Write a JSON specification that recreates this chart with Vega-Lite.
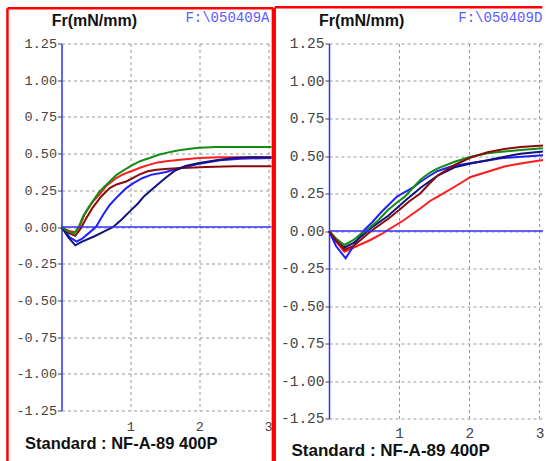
{
  "$schema": "https://vega.github.io/schema/vega-lite/v6.json",
  "padding": {"left": 5.5, "top": 5.5, "right": 0, "bottom": 0},
  "spacing": -2.5,
  "background": "white",
  "config": {"view": {"stroke": null}},
  "datasets": {
    "A": [
      {"s":"blue","x":0,"y":0},{"s":"blue","x":0.12,"y":-0.07},{"s":"blue","x":0.22,"y":-0.1},{"s":"blue","x":0.3,"y":-0.08},{"s":"blue","x":0.4,"y":-0.04},{"s":"blue","x":0.5,"y":0.0},{"s":"blue","x":0.6,"y":0.08},{"s":"blue","x":0.7,"y":0.15},{"s":"blue","x":0.82,"y":0.21},{"s":"blue","x":0.94,"y":0.265},{"s":"blue","x":1.05,"y":0.3},{"s":"blue","x":1.18,"y":0.334},{"s":"blue","x":1.3,"y":0.355},{"s":"blue","x":1.52,"y":0.375},{"s":"blue","x":1.65,"y":0.395},{"s":"blue","x":1.81,"y":0.41},{"s":"blue","x":2.0,"y":0.43},{"s":"blue","x":2.3,"y":0.455},{"s":"blue","x":2.6,"y":0.465},{"s":"blue","x":3.05,"y":0.47},
      {"s":"red","x":0,"y":0},{"s":"red","x":0.1,"y":-0.025},{"s":"red","x":0.2,"y":-0.035},{"s":"red","x":0.26,"y":0},{"s":"red","x":0.33,"y":0.08},{"s":"red","x":0.45,"y":0.17},{"s":"red","x":0.55,"y":0.22},{"s":"red","x":0.65,"y":0.28},{"s":"red","x":0.8,"y":0.335},{"s":"red","x":0.9,"y":0.36},{"s":"red","x":1.04,"y":0.385},{"s":"red","x":1.15,"y":0.405},{"s":"red","x":1.28,"y":0.425},{"s":"red","x":1.4,"y":0.44},{"s":"red","x":1.52,"y":0.448},{"s":"red","x":1.76,"y":0.46},{"s":"red","x":2.0,"y":0.47},{"s":"red","x":2.3,"y":0.475},{"s":"red","x":2.6,"y":0.475},{"s":"red","x":3.05,"y":0.475},
      {"s":"maroon","x":0,"y":0},{"s":"maroon","x":0.1,"y":-0.04},{"s":"maroon","x":0.2,"y":-0.06},{"s":"maroon","x":0.28,"y":-0.01},{"s":"maroon","x":0.36,"y":0.06},{"s":"maroon","x":0.45,"y":0.13},{"s":"maroon","x":0.58,"y":0.21},{"s":"maroon","x":0.7,"y":0.265},{"s":"maroon","x":0.8,"y":0.29},{"s":"maroon","x":0.94,"y":0.31},{"s":"maroon","x":1.04,"y":0.335},{"s":"maroon","x":1.13,"y":0.357},{"s":"maroon","x":1.25,"y":0.38},{"s":"maroon","x":1.38,"y":0.39},{"s":"maroon","x":1.55,"y":0.397},{"s":"maroon","x":1.76,"y":0.402},{"s":"maroon","x":2.1,"y":0.409},{"s":"maroon","x":2.5,"y":0.413},{"s":"maroon","x":3.05,"y":0.413},
      {"s":"navy","x":0,"y":0},{"s":"navy","x":0.1,"y":-0.07},{"s":"navy","x":0.2,"y":-0.125},{"s":"navy","x":0.3,"y":-0.1},{"s":"navy","x":0.48,"y":-0.063},{"s":"navy","x":0.6,"y":-0.035},{"s":"navy","x":0.75,"y":0.0},{"s":"navy","x":0.87,"y":0.05},{"s":"navy","x":1.0,"y":0.11},{"s":"navy","x":1.11,"y":0.16},{"s":"navy","x":1.2,"y":0.21},{"s":"navy","x":1.35,"y":0.27},{"s":"navy","x":1.5,"y":0.33},{"s":"navy","x":1.65,"y":0.385},{"s":"navy","x":1.8,"y":0.415},{"s":"navy","x":2.0,"y":0.436},{"s":"navy","x":2.25,"y":0.455},{"s":"navy","x":2.5,"y":0.47},{"s":"navy","x":2.75,"y":0.475},{"s":"navy","x":3.05,"y":0.475},
      {"s":"green","x":0,"y":0},{"s":"green","x":0.1,"y":-0.03},{"s":"green","x":0.18,"y":-0.045},{"s":"green","x":0.25,"y":0},{"s":"green","x":0.31,"y":0.07},{"s":"green","x":0.4,"y":0.14},{"s":"green","x":0.55,"y":0.24},{"s":"green","x":0.7,"y":0.31},{"s":"green","x":0.8,"y":0.355},{"s":"green","x":0.95,"y":0.4},{"s":"green","x":1.04,"y":0.425},{"s":"green","x":1.15,"y":0.45},{"s":"green","x":1.28,"y":0.47},{"s":"green","x":1.4,"y":0.49},{"s":"green","x":1.52,"y":0.505},{"s":"green","x":1.65,"y":0.517},{"s":"green","x":1.76,"y":0.527},{"s":"green","x":1.9,"y":0.535},{"s":"green","x":2.0,"y":0.54},{"s":"green","x":2.25,"y":0.545},{"s":"green","x":2.5,"y":0.545},{"s":"green","x":2.75,"y":0.545},{"s":"green","x":3.05,"y":0.545}
    ],
    "D": [
      {"s":"red","x":0,"y":0},{"s":"red","x":0.1,"y":-0.07},{"s":"red","x":0.22,"y":-0.138},{"s":"red","x":0.4,"y":-0.1},{"s":"red","x":0.59,"y":-0.06},{"s":"red","x":0.75,"y":-0.02},{"s":"red","x":0.85,"y":0.01},{"s":"red","x":1.06,"y":0.07},{"s":"red","x":1.3,"y":0.15},{"s":"red","x":1.44,"y":0.2},{"s":"red","x":1.55,"y":0.229},{"s":"red","x":1.79,"y":0.295},{"s":"red","x":2.02,"y":0.36},{"s":"red","x":2.26,"y":0.395},{"s":"red","x":2.5,"y":0.43},{"s":"red","x":2.73,"y":0.45},{"s":"red","x":3.05,"y":0.473},
      {"s":"blue","x":0,"y":0},{"s":"blue","x":0.1,"y":-0.1},{"s":"blue","x":0.237,"y":-0.182},{"s":"blue","x":0.35,"y":-0.1},{"s":"blue","x":0.5,"y":0.005},{"s":"blue","x":0.62,"y":0.06},{"s":"blue","x":0.73,"y":0.118},{"s":"blue","x":0.84,"y":0.17},{"s":"blue","x":0.97,"y":0.229},{"s":"blue","x":1.08,"y":0.26},{"s":"blue","x":1.2,"y":0.29},{"s":"blue","x":1.31,"y":0.33},{"s":"blue","x":1.44,"y":0.37},{"s":"blue","x":1.55,"y":0.4},{"s":"blue","x":1.74,"y":0.43},{"s":"blue","x":1.98,"y":0.45},{"s":"blue","x":2.26,"y":0.47},{"s":"blue","x":2.45,"y":0.485},{"s":"blue","x":2.75,"y":0.495},{"s":"blue","x":3.05,"y":0.505},
      {"s":"navy","x":0,"y":0},{"s":"navy","x":0.1,"y":-0.065},{"s":"navy","x":0.22,"y":-0.11},{"s":"navy","x":0.35,"y":-0.08},{"s":"navy","x":0.5,"y":-0.02},{"s":"navy","x":0.6,"y":0.02},{"s":"navy","x":0.72,"y":0.06},{"s":"navy","x":0.84,"y":0.1},{"s":"navy","x":1.08,"y":0.2},{"s":"navy","x":1.31,"y":0.29},{"s":"navy","x":1.55,"y":0.37},{"s":"navy","x":1.79,"y":0.425},{"s":"navy","x":2.02,"y":0.45},{"s":"navy","x":2.26,"y":0.472},{"s":"navy","x":2.5,"y":0.495},{"s":"navy","x":2.73,"y":0.515},{"s":"navy","x":3.05,"y":0.53},
      {"s":"green","x":0,"y":0},{"s":"green","x":0.1,"y":-0.05},{"s":"green","x":0.22,"y":-0.093},{"s":"green","x":0.35,"y":-0.06},{"s":"green","x":0.45,"y":-0.02},{"s":"green","x":0.55,"y":0.01},{"s":"green","x":0.7,"y":0.07},{"s":"green","x":0.84,"y":0.14},{"s":"green","x":0.97,"y":0.19},{"s":"green","x":1.08,"y":0.229},{"s":"green","x":1.2,"y":0.29},{"s":"green","x":1.31,"y":0.345},{"s":"green","x":1.44,"y":0.39},{"s":"green","x":1.55,"y":0.418},{"s":"green","x":1.79,"y":0.462},{"s":"green","x":2.02,"y":0.495},{"s":"green","x":2.26,"y":0.518},{"s":"green","x":2.5,"y":0.53},{"s":"green","x":2.73,"y":0.54},{"s":"green","x":3.05,"y":0.551},
      {"s":"maroon","x":0,"y":0},{"s":"maroon","x":0.1,"y":-0.06},{"s":"maroon","x":0.22,"y":-0.125},{"s":"maroon","x":0.35,"y":-0.1},{"s":"maroon","x":0.5,"y":-0.04},{"s":"maroon","x":0.6,"y":0.0},{"s":"maroon","x":0.72,"y":0.04},{"s":"maroon","x":0.84,"y":0.08},{"s":"maroon","x":1.0,"y":0.14},{"s":"maroon","x":1.15,"y":0.2},{"s":"maroon","x":1.3,"y":0.25},{"s":"maroon","x":1.44,"y":0.32},{"s":"maroon","x":1.55,"y":0.37},{"s":"maroon","x":1.79,"y":0.44},{"s":"maroon","x":2.02,"y":0.49},{"s":"maroon","x":2.26,"y":0.525},{"s":"maroon","x":2.5,"y":0.547},{"s":"maroon","x":2.73,"y":0.56},{"s":"maroon","x":3.05,"y":0.57}
    ]
  },
  "hconcat": [
    {
      "width": 210,
      "height": 367,
      "layer": [
        {
          "data": {"name": "A"},
          "mark": {"type": "line", "strokeWidth": 2},
          "encoding": {
            "x": {"field": "x", "type": "quantitative",
              "scale": {"domain": [0, 3.05], "nice": false, "zero": false},
              "axis": {"title": "Standard : NF-A-89 400P", "titleAlign": "left", "titleBaseline": "middle", "titleX": -37, "titleY": 33,
                "titleFont": "Liberation Sans", "titleFontSize": 16.5, "titleFontWeight": "bold", "titleColor": "#111",
                "values": [1, 2, 3], "tickCount": 10, "format": "d", "labelFlush": false, "labelOverlap": false,
                "labelFont": "Liberation Mono", "labelFontSize": 13.5, "labelColor": "#444", "labelPadding": 9,
                "ticks": false, "domain": false, "grid": true, "gridColor": "#999", "gridDash": [3, 3], "gridWidth": 1}},
            "y": {"field": "y", "type": "quantitative",
              "scale": {"domain": [-1.25, 1.25], "nice": false, "zero": false},
              "axis": {"title": "Fr(mN/mm)", "titleAngle": 0, "titleAlign": "left", "titleBaseline": "middle", "titleX": -10.3, "titleY": -23.3,
                "titleFont": "Liberation Sans", "titleFontSize": 16, "titleFontWeight": "bold", "titleColor": "#111",
                "values": [-1.25, -1, -0.75, -0.5, -0.25, 0, 0.25, 0.5, 0.75, 1, 1.25], "tickCount": 20,
                "labelExpr": "replace(format(datum.value, '.2f'), '\u2212', '-')", "labelFlush": false, "labelOverlap": false,
                "labelFont": "Liberation Mono", "labelFontSize": 13.5, "labelColor": "#444", "labelPadding": 1,
                "tickSize": 4, "tickColor": "#444", "domainColor": "#3030ff", "domainWidth": 1.5,
                "grid": true, "gridColor": "#999", "gridDash": [3, 3], "gridWidth": 1}},
            "color": {"field": "s", "type": "nominal",
              "scale": {"domain": ["green", "red", "maroon", "blue", "navy"], "range": ["#138c13", "#ff1c1c", "#880c0c", "#1f1fff", "#12127e"]},
              "legend": null}
          }
        },
        {"data": {"values": [{}]}, "mark": {"type": "rule", "color": "#3030ff", "strokeWidth": 1.5},
         "encoding": {"x": {"datum": 0}, "x2": {"datum": 3.05}, "y": {"datum": 0}}},
        {"data": {"values": [{}]}, "mark": {"type": "text", "text": "F:\\050409A", "align": "right", "baseline": "middle", "font": "Liberation Mono", "fontSize": 14, "color": "#5a5aff"},
         "encoding": {"x": {"datum": 3.02}, "y": {"datum": 1.424}}},
        {"data": {"values": [{}]}, "mark": {"type": "rule", "color": "#ff0000", "strokeWidth": 2.5},
         "encoding": {"x": {"datum": -0.785}, "y": {"datum": 1.4905}, "y2": {"datum": -1.603}}},
        {"data": {"values": [{}]}, "mark": {"type": "rule", "color": "#ff0000", "strokeWidth": 2.5},
         "encoding": {"x": {"datum": -0.785}, "x2": {"datum": 3.074}, "y": {"datum": 1.4905}}},
        {"data": {"values": [{}]}, "mark": {"type": "rule", "color": "#ff0000", "strokeWidth": 3},
         "encoding": {"x": {"datum": 3.074}, "y": {"datum": 1.4905}, "y2": {"datum": -1.603}}}
      ]
    },
    {
      "width": 214,
      "height": 375,
      "layer": [
        {
          "data": {"name": "D"},
          "mark": {"type": "line", "strokeWidth": 2},
          "encoding": {
            "x": {"field": "x", "type": "quantitative",
              "scale": {"domain": [0, 3.05], "nice": false, "zero": false},
              "axis": {"title": "Standard : NF-A-89 400P", "titleAlign": "left", "titleBaseline": "middle", "titleX": -38, "titleY": 32.4,
                "titleFont": "Liberation Sans", "titleFontSize": 17, "titleFontWeight": "bold", "titleColor": "#111",
                "values": [1, 2, 3], "tickCount": 10, "format": "d", "labelFlush": false, "labelOverlap": false,
                "labelFont": "Liberation Mono", "labelFontSize": 14.5, "labelColor": "#444", "labelPadding": 8,
                "ticks": false, "domain": false, "grid": true, "gridColor": "#999", "gridDash": [3, 3], "gridWidth": 1}},
            "y": {"field": "y", "type": "quantitative",
              "scale": {"domain": [-1.25, 1.25], "nice": false, "zero": false},
              "axis": {"title": "Fr(mN/mm)", "titleAngle": 0, "titleAlign": "left", "titleBaseline": "middle", "titleX": -10.6, "titleY": -23.3,
                "titleFont": "Liberation Sans", "titleFontSize": 16, "titleFontWeight": "bold", "titleColor": "#111",
                "values": [-1.25, -1, -0.75, -0.5, -0.25, 0, 0.25, 0.5, 0.75, 1, 1.25], "tickCount": 20,
                "labelExpr": "replace(format(datum.value, '.2f'), '\u2212', '-')", "labelFlush": false, "labelOverlap": false,
                "labelFont": "Liberation Mono", "labelFontSize": 14.5, "labelColor": "#444", "labelPadding": 1,
                "tickSize": 4, "tickColor": "#444", "domainColor": "#3030ff", "domainWidth": 1.5,
                "grid": true, "gridColor": "#999", "gridDash": [3, 3], "gridWidth": 1}},
            "color": {"field": "s", "type": "nominal",
              "scale": {"domain": ["green", "red", "maroon", "blue", "navy"], "range": ["#138c13", "#ff1c1c", "#880c0c", "#1f1fff", "#12127e"]},
              "legend": null}
          }
        },
        {"data": {"values": [{}]}, "mark": {"type": "rule", "color": "#3030ff", "strokeWidth": 1.5},
         "encoding": {"x": {"datum": 0}, "x2": {"datum": 3.05}, "y": {"datum": 0}}},
        {"data": {"values": [{}]}, "mark": {"type": "text", "text": "F:\\050409D", "align": "right", "baseline": "middle", "font": "Liberation Mono", "fontSize": 14, "color": "#5a5aff"},
         "encoding": {"x": {"datum": 3.04}, "y": {"datum": 1.418}}},
        {"data": {"values": [{}]}, "mark": {"type": "rule", "color": "#ff0000", "strokeWidth": 2},
         "encoding": {"x": {"datum": -0.77}, "y": {"datum": 1.492}, "y2": {"datum": -1.533}}},
        {"data": {"values": [{}]}, "mark": {"type": "rule", "color": "#ff0000", "strokeWidth": 2.5},
         "encoding": {"x": {"datum": -0.77}, "x2": {"datum": 3.04}, "y": {"datum": 1.492}}}
      ]
    }
  ]
}
